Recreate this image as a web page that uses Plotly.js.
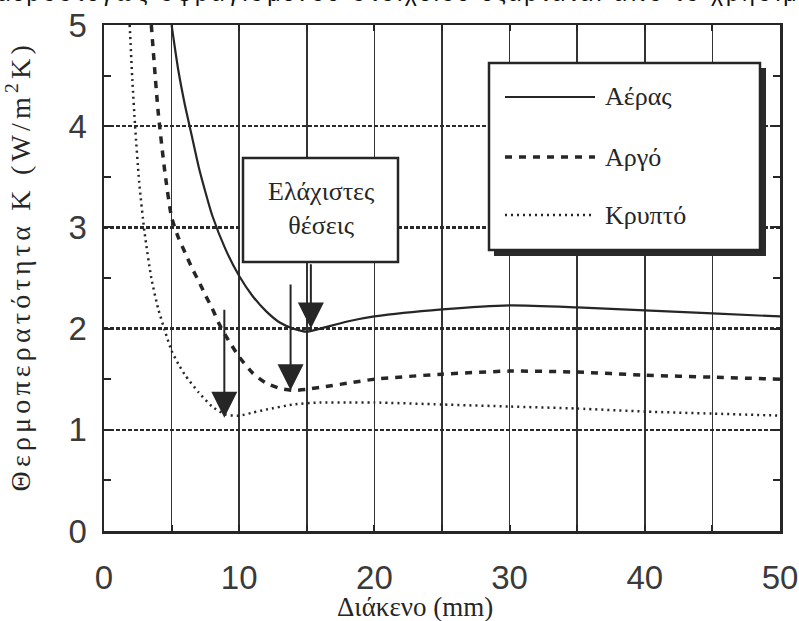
<!DOCTYPE html>
<html><head><meta charset="utf-8">
<script src="https://cdn.plot.ly/plotly-3.0.1.min.js"></script>
<style>
html,body{margin:0;padding:0;background:#fff;}
.annotation[data-index="0"] .annotation-text{letter-spacing:3px;}
.annotation[data-index="1"] .annotation-text{letter-spacing:4.2px;}
</style>
</head><body><div id="chart" style="width:799px;height:621px;"></div>
<script>
// ---- data ----
const seriesNames = ['Αέρας', 'Αργό', 'Κρυπτό'];
const gapAir = [5, 5.5, 6, 6.5, 7, 7.5, 8, 9, 10, 11, 12, 13, 14, 15, 16, 18, 20, 25, 30, 35, 40, 45, 50];
const kAir   = [5.0, 4.55, 4.2, 3.9, 3.6, 3.35, 3.12, 2.78, 2.52, 2.32, 2.17, 2.06, 2.0, 1.97, 2.0, 2.07, 2.12, 2.19, 2.23, 2.21, 2.18, 2.15, 2.12];
const gapArgon = [3.5, 4, 4.5, 5, 5.5, 6, 6.5, 7, 7.5, 8, 8.5, 9, 10, 11, 12, 13, 14, 15, 16, 18, 20, 25, 30, 35, 40, 45, 50];
const kArgon   = [5.0, 4.15, 3.55, 3.1, 2.9, 2.75, 2.6, 2.47, 2.33, 2.2, 2.05, 1.93, 1.72, 1.56, 1.46, 1.41, 1.39, 1.4, 1.42, 1.46, 1.5, 1.55, 1.58, 1.57, 1.54, 1.52, 1.5];
const gapKrypton = [1.9, 2.1, 2.3, 2.6, 3, 3.5, 4, 4.5, 5, 5.5, 6, 7, 8, 9, 10, 11, 12, 14, 16, 18, 20, 25, 30, 35, 40, 45, 50];
const kKrypton   = [5.0, 4.45, 4.0, 3.45, 2.95, 2.5, 2.2, 1.98, 1.78, 1.65, 1.54, 1.37, 1.23, 1.15, 1.14, 1.17, 1.2, 1.25, 1.27, 1.27, 1.27, 1.25, 1.23, 1.21, 1.18, 1.16, 1.14];
// minimum positions pointed at by the arrows
const minGap = [15.3, 13.8, 8.9];
const minK   = [2.0, 1.39, 1.12];
const arrowTailK = [2.65, 2.45, 2.2];
const xTicks = [0, 10, 20, 30, 40, 50];
const yTicks = [0, 1, 2, 3, 4, 5];
const topText = 'αεροστεγώς σφραγισμένου στοιχείου εξαρτάται από το χρήσιμο';
const yTitle = 'Θερμοπερατότητα K (W/m<sup>2</sup>K)';
const xTitle = 'Διάκενο (mm)';
const boxText = 'Ελάχιστες<br>θέσεις';

// ---- layout helpers (pixel -> paper) ----
const W = 799, H = 621, L = 104, R = 19, T = 25, B = 90;
const pw = W - L - R, ph = H - T - B;
const px = x => (x - L) / pw;
const py = y => (H - B - y) / ph;
const ink = '#262626';
const serif = '"Liberation Serif", "Times New Roman", "DejaVu Serif", serif';
const sans = '"Liberation Sans", Arial, sans-serif';

const styles = [
  {color: ink, width: 2.2, dash: 'solid'},
  {color: ink, width: 3.5, dash: '7px,7px'},
  {color: ink, width: 2.5, dash: '2px,4px'}
];
const xs = [gapAir, gapArgon, gapKrypton];
const ys = [kAir, kArgon, kKrypton];
const traces = xs.map((x, i) => ({
  x: x, y: ys[i], name: seriesNames[i], type: 'scatter', mode: 'lines',
  line: {color: styles[i].color, width: styles[i].width, dash: styles[i].dash, shape: 'spline', smoothing: 0.6},
  showlegend: false, hoverinfo: 'skip'
}));

const shapes = [];
const annotations = [];
// cut-off line of text at the top of the page (index 0)
annotations.push({xref: 'paper', yref: 'paper', x: px(406), y: py(-7), xanchor: 'center', yanchor: 'middle',
  text: topText, showarrow: false, font: {family: sans, size: 23, color: '#111'}});
// y axis title (index 1)
annotations.push({xref: 'paper', yref: 'paper', x: px(18), y: py(267), xanchor: 'center', yanchor: 'middle',
  text: yTitle, textangle: -90, showarrow: false, font: {family: serif, size: 28, color: ink}});
// x axis title
annotations.push({xref: 'paper', yref: 'paper', x: px(415), y: py(607), xanchor: 'center', yanchor: 'middle',
  text: xTitle, showarrow: false, font: {family: serif, size: 27, color: ink}});

// legend box with shadow
shapes.push({type: 'rect', xref: 'paper', yref: 'paper', layer: 'above',
  x0: px(494), x1: px(766), y0: py(68), y1: py(256), fillcolor: '#2a2a2a', line: {width: 0}});
shapes.push({type: 'rect', xref: 'paper', yref: 'paper', layer: 'above',
  x0: px(489), x1: px(760), y0: py(63), y1: py(250), fillcolor: '#ffffff', line: {color: ink, width: 2.5}});
const legendRowsY = [97, 157, 215];
seriesNames.forEach((n, i) => {
  shapes.push({type: 'line', xref: 'paper', yref: 'paper', layer: 'above',
    x0: px(505), x1: px(595), y0: py(legendRowsY[i]), y1: py(legendRowsY[i]),
    line: {color: styles[i].color, width: styles[i].width, dash: styles[i].dash}});
  annotations.push({xref: 'paper', yref: 'paper', x: px(603), y: py(legendRowsY[i]),
    xanchor: 'left', yanchor: 'middle', text: n, showarrow: false,
    font: {family: serif, size: 26, color: ink}});
});
// "minimum positions" box
shapes.push({type: 'rect', xref: 'paper', yref: 'paper', layer: 'above',
  x0: px(243), x1: px(398), y0: py(158), y1: py(262), fillcolor: '#ffffff', line: {color: ink, width: 2.5}});
annotations.push({xref: 'paper', yref: 'paper', x: px(321), y: py(208),
  xanchor: 'center', yanchor: 'middle', text: boxText, showarrow: false,
  font: {family: serif, size: 26, color: ink}});
// arrows
minGap.forEach((g, i) => {
  annotations.push({xref: 'x', yref: 'y', axref: 'x', ayref: 'y', x: g, y: minK[i], ax: g, ay: arrowTailK[i],
    text: '', showarrow: true, arrowhead: 2, arrowsize: 2.6, arrowwidth: 2, arrowcolor: ink});
});

const layout = {
  width: W, height: H,
  margin: {l: L, r: R, t: T, b: B},
  paper_bgcolor: '#ffffff', plot_bgcolor: '#ffffff',
  xaxis: {
    range: [0, 50], tickvals: xTicks, ticktext: xTicks.map(String),
    showline: true, mirror: 'ticks', linecolor: ink, linewidth: 2.5,
    showgrid: true, gridcolor: '#333', gridwidth: 1.5,
    ticks: 'inside', ticklen: 6, tickcolor: ink, tickwidth: 2,
    minor: {dtick: 5, showgrid: true, gridcolor: '#333', gridwidth: 1.5, ticks: 'inside', ticklen: 6, tickcolor: ink},
    tickfont: {family: sans, size: 33, color: '#3a3a3a'},
    ticklabelstandoff: 16, zeroline: false, fixedrange: true
  },
  yaxis: {
    range: [0, 5], tickvals: yTicks, ticktext: yTicks.map(String),
    showline: true, mirror: 'ticks', linecolor: ink, linewidth: 2.5,
    showgrid: true, gridcolor: '#2a2a2a', gridwidth: 2.5, griddash: '4px,2px',
    ticks: 'inside', ticklen: 6, tickcolor: ink, tickwidth: 2,
    minor: {dtick: 0.5, ticks: 'inside', ticklen: 7, tickcolor: ink, tickwidth: 2, showgrid: false},
    tickfont: {family: sans, size: 33, color: '#3a3a3a'},
    ticklabelstandoff: 8, zeroline: false, fixedrange: true
  },
  shapes: shapes,
  annotations: annotations,
  showlegend: false
};
Plotly.newPlot('chart', traces, layout, {displayModeBar: false, staticPlot: true});
</script>
</body></html>
